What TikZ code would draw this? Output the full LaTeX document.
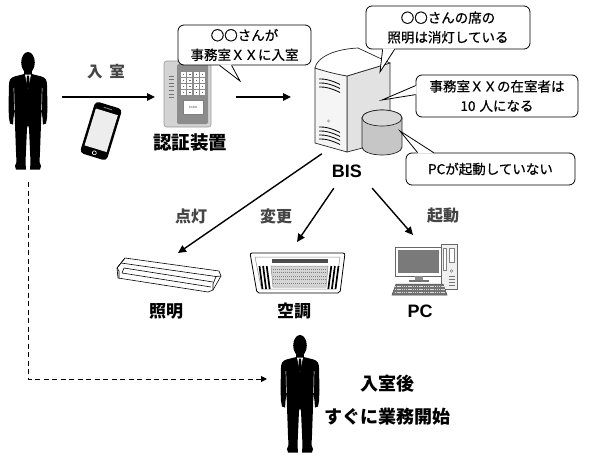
\documentclass[tikz,border=0pt]{standalone}
\usepackage{fontspec}
\setmainfont{Liberation Sans}
\newfontfamily\jp{Noto Sans CJK JP}
\newfontfamily\jpm{Noto Sans CJK JP}[FakeBold=0.6]
\usetikzlibrary{arrows.meta,calc}

\definecolor{labgray}{HTML}{454545}
\definecolor{srvfront}{HTML}{F5F5F5}
\definecolor{srvside}{HTML}{E2E2E2}
\definecolor{cylbody}{HTML}{C6C6C6}
\definecolor{cyltop}{HTML}{D8D8D8}
\definecolor{authbody}{HTML}{D3D3D3}
\definecolor{authpanel}{HTML}{8C8C8C}
\definecolor{grille}{HTML}{D4D4D4}
\definecolor{screen}{HTML}{7A7A7A}

\tikzset{
  arr/.style={line width=1.4pt, -{Triangle[length=8pt,width=7.5pt]}},
  dasharr/.style={line width=1pt, dash pattern=on 5pt off 3.5pt, -{Triangle[length=6pt,width=6pt]}},
  callout/.style={draw=black, line width=0.8pt, fill=white, rounded corners=6pt,
    inner sep=0pt, align=center, font=\jpm\fontsize{13.5}{19.5}\selectfont},
  tailline/.style={draw=black, line width=0.8pt},
  lab/.style={font=\jp\bfseries\fontsize{17}{20}\selectfont},
  act/.style={font=\jp\bfseries\fontsize{16}{19}\selectfont, text=labgray},
  latinlab/.style={font=\bfseries\fontsize{18}{20}\selectfont},
  ghost/.style={inner sep=0pt, outer sep=0pt},
  outline/.style={draw=black!85, line width=0.7pt},
  person/.pic={
    % head and neck
    \fill[black] (0,10.5) ellipse [x radius=6.8pt, y radius=10.5pt];
    \fill[black] (-3.8,17) rectangle (3.8,24);
    % suit body, arms and legs
    \fill[black] (-3.8,22) -- (-13.5,24.5) .. controls (-17.5,25.5) and (-19,28.5) .. (-19,33)
      -- (-19.5,55) -- (-19,66) -- (-18,71.5) -- (-15,72.5) -- (-14.5,66) -- (-13.5,58)
      -- (-13,72) -- (-12,100) -- (-11.5,110) -- (-13,114) -- (-12,117.5) -- (-2,117.5)
      -- (-2.5,110) -- (-1,76) -- (0,73) -- (1,76) -- (2.5,110) -- (2,117.5) -- (12,117.5)
      -- (13,114) -- (11.5,110) -- (12,100) -- (13,72) -- (13.5,58) -- (14.5,66) -- (15,72.5)
      -- (18,71.5) -- (19,66) -- (19.5,55) -- (19,33) .. controls (19,28.5) and (17.5,25.5) .. (13.5,24.5)
      -- (3.8,22) -- cycle;
    % shirt and tie
    \fill[white] (-3,22.5) -- (3,22.5) -- (0,37) -- cycle;
    \fill[black] (-1.1,23.5) -- (1.1,23.5) -- (1.7,33) -- (0,37.5) -- (-1.7,33) -- cycle;
    % arm creases
    \draw[white, line width=0.45pt] (-14.1,36) -- (-13.6,58);
    \draw[white, line width=0.45pt] (14.1,36) -- (13.6,58);
  }
}

\begin{document}
\begin{tikzpicture}[x=1pt, y=-1pt]
\useasboundingbox[fill=white] (0,0) rectangle (595,456);

% ---------------- people ----------------
\pic at (28,52) {person};
\pic at (300,335) {person};
\node[ghost, minimum width=38pt, minimum height=118pt] (p1) at (28,111) {};
\node[ghost, minimum width=40pt, minimum height=88pt] (p2) at (300,379) {};

% ---------------- smartphone ----------------
\begin{scope}[shift={(101,131)}, rotate=-17]
  \fill[black, rounded corners=4pt] (-14,-27) rectangle (14,27);
  \fill[black!7] (-11.5,-20) rectangle (11.5,18.5);
  \draw[black!45, line width=0.8pt, line cap=round] (-4,-23.5) -- (4,-23.5);
  \draw[white, line width=0.6pt] (0,22.8) circle [radius=2pt];
\end{scope}
\node[ghost, minimum width=34pt, minimum height=62pt] (phone) at (101,131) {};

% ---------------- authentication terminal ----------------
\filldraw[fill=authbody, draw=black!40, line width=0.6pt, rounded corners=2.5pt] (164,61) rectangle (211,127);
\fill[authpanel, rounded corners=1.5pt] (177,64) rectangle (208,124);
\foreach \i in {0,...,6} \draw[line width=0.8pt, black!55] (168.5,76+\i*3.6) -- (173.5,76+\i*3.6);
\foreach \r in {0,...,3} \foreach \c in {0,...,3} {
  \fill[white] (181+\c*6.3, 72+\r*6) rectangle ++(5,4.6);
  \fill[black!60] (183+\c*6.3, 73.5+\r*6) rectangle ++(1.2,1.8);
}
\filldraw[fill=white, draw=black!50, line width=0.3pt] (183,100) rectangle (203,114);
\node[ghost, font=\fontsize{3}{3}\selectfont, text=black!70] (cardtxt) at (193,107) {CARD};
\node[ghost, minimum width=66pt, minimum height=66pt] (auth) at (188,97) {};
\node[lab, font=\jp\bfseries\fontsize{18.5}{20}\selectfont] (authlab) at (190,142) {認証装置};

% ---------------- server ----------------
\filldraw[outline, fill=srvside] (347,76) -- (390,63) -- (390,141) -- (347,152) -- cycle;
\filldraw[outline, fill=srvfront] (315,68) -- (347,76) -- (347,152) -- (315,143) -- cycle;
\filldraw[outline, fill=white] (315,68) .. controls (317,57) and (335,49) .. (358,48)
  -- (390,63) -- (347,76) .. controls (335,74) and (324,71) .. (315,68) -- cycle;
\foreach \y in {0,4,8}
  \draw[line width=0.8pt] (319,79+\y) .. controls (326,78.5+\y) and (333,81+\y) .. (340,84.5+\y);
\foreach \y in {0,4,8,12}
  \draw[line width=0.8pt] (319,127+\y) .. controls (326,126.5+\y) and (333,129+\y) .. (340,132.5+\y);
\fill[black!30] (328.5,121) circle [radius=1.6pt];
\node[ghost, minimum width=80pt, minimum height=110pt] (srv) at (352,100) {};

% database cylinder
\filldraw[outline, fill=cylbody] (362,118) -- (362,147)
  arc[start angle=180, end angle=360, x radius=20pt, y radius=8pt]
  -- (402,118) arc[start angle=0, end angle=180, x radius=20pt, y radius=8pt] -- cycle;
\filldraw[outline, fill=cyltop] (382,118) ellipse [x radius=20pt, y radius=8pt];

\node[latinlab, minimum width=50pt, minimum height=34pt, inner sep=0pt] (bis) at (347,171) {BIS};

% ---------------- ceiling light ----------------
\begin{scope}[line width=0.6pt, line join=round]
  \filldraw[fill=white] (125,258) -- (219,271) -- (221,276) -- (213,290) -- (208,292) -- (118,278) -- (117,268) -- cycle;
  \draw (117,268) -- (121,263) -- (216,276.5) -- (221,276);
  \draw (121,263) -- (125,258);
  \draw (124,268) -- (213,282);
  \draw (122,273) -- (211,287);
  \draw (117,268) -- (119,271) -- (119,278);
  \draw (213,290) -- (213,284) -- (216,276.5);
  \draw (124,268) -- (122,273);
\end{scope}
\node[ghost, minimum width=104pt, minimum height=40pt] (light) at (169,275) {};
\node[lab] (lightlab) at (166,311) {照明};

% ---------------- ceiling air conditioner ----------------
\filldraw[draw=black, line width=0.8pt, fill=white, rounded corners=2pt] (250,253) -- (345,253) -- (340,293) -- (257,293) -- cycle;
\draw[black!45, line width=0.5pt] (255,257) -- (340,257) -- (335.5,289) -- (261.5,289) -- cycle;
\fill[black!70] (272,259) rectangle (328,263);
\filldraw[fill=grille, draw=black!45, line width=0.5pt] (271,266) -- (328,266) -- (326,287) -- (273,287) -- cycle;
\foreach \y in {269,272.5,276,279.5,283}
  \draw[black!50, line width=0.6pt, dash pattern=on 1.2pt off 0.8pt] (273,\y) -- (326,\y);
\foreach \i in {0,1,2} {
  \draw[black, line width=1.7pt] (259.5+\i*3.6,266) -- (262.5+\i*3.6,289);
  \draw[black, line width=1.7pt] (338.5-\i*3.6,266) -- (335.5-\i*3.6,289);
}
\node[ghost, minimum width=96pt, minimum height=42pt] (ac) at (297,273) {};
\node[lab] (aclab) at (294,311) {空調};

% ---------------- desktop PC ----------------
\filldraw[fill=white, draw=black!60, line width=0.6pt] (395,247) rectangle (441,276);
\fill[screen] (397.5,249.5) rectangle (438.5,272.5);
\fill[black!45] (415,276) rectangle (423,280);
\fill[black!55] (409,280) rectangle (429,282);
\filldraw[fill=black!6, draw=black!60, line width=0.6pt] (441,244) rectangle (457,289);
\filldraw[fill=white, draw=black!50, line width=0.4pt] (443.5,248) rectangle (446.5,270);
\filldraw[fill=white, draw=black!50, line width=0.4pt] (449.5,248) rectangle (454,262);
\draw[black!60, line width=0.4pt] (451.5,271) circle [radius=1.3pt];
\foreach \y in {276,279,282,285} \draw[black!55, line width=0.6pt] (449,\y) -- (455,\y);
\filldraw[fill=black!55, draw=black!70, line width=0.5pt] (396,284) -- (443,284) -- (447,295) -- (392,295) -- cycle;
\foreach \y in {286.5,289.5,292.5}
  \draw[white!85!black, line width=0.5pt, dash pattern=on 1.3pt off 0.9pt] (395,\y) -- (445,\y);
\node[ghost, minimum width=66pt, minimum height=50pt] (pc) at (425,268) {};
\node[latinlab] (pclab) at (420,311) {PC};

% ---------------- flows ----------------
\draw[arr, shorten <=15pt] (p1.east |- auth.west) -- (auth.west);
\node[act, font=\jp\bfseries\fontsize{15.5}{18}\selectfont] (enter) at (106,72) {入\hspace{0.45em}室};
\draw[arr, shorten <=15pt, shorten >=21pt] (auth.east) -- (auth.east -| srv.west);

\draw[arr] (bis.north west) -- ($(light.north)+(9,-2)$);
\draw[arr] ($(bis.south west)+(12,0)$) -- ($(ac.north)+(0,-10)$);
\draw[arr] (bis.south east) -- ($(pc.north)+(-12,-8)$);
\node[act] (on) at (191,216) {点灯};
\node[act] (chg) at (276,216) {変更};
\node[act] (boot) at (443,216) {起動};

\draw[dasharr, shorten <=12pt, shorten >=13pt] (p1.south) |- (p2.west);
\node[lab, font=\jp\bfseries\fontsize{18}{20}\selectfont] (after1) at (387,384) {入室後};
\node[lab, font=\jp\bfseries\fontsize{18}{20}\selectfont] (after2) at (387,417) {すぐに業務開始};

% ---------------- speech bubbles ----------------
\node[callout, minimum width=133pt, minimum height=40pt] (c1) at (244.5,45) {○○さんが\\事務室ＸＸに入室};
\coordinate (t1) at (240,81);
\fill[white] ($(c1.south west)+(42,-1)$) -- (t1) -- ($(c1.south west)+(54,-1)$) -- cycle;
\draw[tailline] ($(c1.south west)+(42,0)$) -- (t1) -- ($(c1.south west)+(54,0)$);

\node[callout, minimum width=164pt, minimum height=43pt] (c2) at (448,27.5) {○○さんの席の\\照明は消灯している};
\coordinate (t2) at (380,72);
\fill[white] ($(c2.south west)+(17,-1)$) -- (t2) -- ($(c2.south west)+(29,-1)$) -- cycle;
\draw[tailline] ($(c2.south west)+(17,0)$) -- (t2) -- ($(c2.south west)+(29,0)$);

\node[callout, minimum width=162pt, minimum height=42pt] (c3) at (497,96) {事務室ＸＸの在室者は\\10\hspace{0.3em}人になる};
\coordinate (t3) at (382,100);
\fill[white] ($(c3.north west)+(1,11)$) -- (t3) -- ($(c3.north west)+(1,20)$) -- cycle;
\draw[tailline] ($(c3.north west)+(0,11)$) -- (t3) -- ($(c3.north west)+(0,20)$);

\node[callout, minimum width=169pt, minimum height=32pt] (c4) at (490.5,169) {PCが起動していない};
\coordinate (t4) at (400,131);
\fill[white] ($(c4.north west)+(12,1)$) -- (t4) -- ($(c4.north west)+(28,1)$) -- cycle;
\draw[tailline] ($(c4.north west)+(12,0)$) -- (t4) -- ($(c4.north west)+(28,0)$);

\end{tikzpicture}
\end{document}
